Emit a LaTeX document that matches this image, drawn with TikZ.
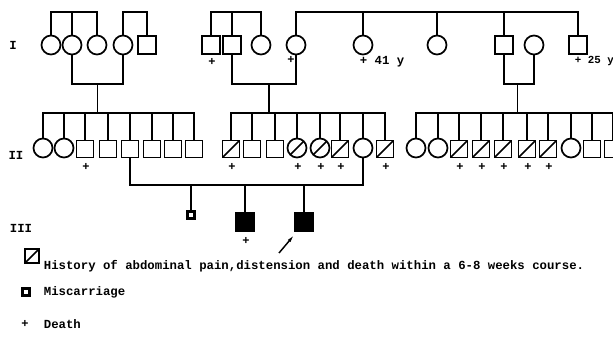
\documentclass[tikz,border=0pt]{standalone}
\usepackage{fontspec}
\setmonofont{Liberation Mono}
\usetikzlibrary{arrows.meta,calc}
\begin{document}
\begin{tikzpicture}[x=0.75pt,y=-0.75pt, line width=1.3pt, line join=miter,
  sq/.style={draw, rectangle, minimum size=12.75pt, inner sep=0pt},
  sqI/.style={draw, rectangle, minimum size=13.5pt, inner sep=0pt},
  ci/.style={draw, circle, minimum size=14.25pt, inner sep=0pt},
  hatch/.style={path picture={\draw[line width=1.3pt] (path picture bounding box.south west) -- (path picture bounding box.north east);}},
  affsq/.style={draw, fill=black, rectangle, minimum size=13.5pt, inner sep=0pt},
  misc/.style={draw, fill=white, rectangle, minimum size=5pt, inner sep=0pt, line width=1.9pt},
  plus/.style={font=\fontsize{9}{9}\selectfont\ttfamily\bfseries, inner sep=0pt},
  txt/.style={font=\fontsize{9.25}{10}\selectfont\ttfamily\bfseries, inner sep=0pt, anchor=west},
]
\useasboundingbox (0,0) rectangle (613,345);
\coordinate (yI) at (0,12);
\coordinate (yM) at (0,84);
\coordinate (yII) at (0,113);
\coordinate (yM2) at (0,185);

% generation labels
\node[txt, anchor=center] (gI) at (13,45) {I};
\node[txt, anchor=center] (gII) at (16,155) {II};
\node[txt, anchor=center] (gIII) at (21,228) {III};

% ---------- Generation I ----------
\node[ci] (a1) at (51,45) {};
\node[ci] (a2) at (72,45) {};
\node[ci] (a3) at (97,45) {};
\node[ci] (a4) at (123,45) {};
\node[sqI] (a5) at (147,45) {};

\node[sqI] (b1) at (211,45) {};
\node[sqI] (b2) at (232,45) {};
\node[ci] (b3) at (261,45) {};
\node[ci] (b4) at (296,45) {};
\node[ci] (b5) at (363,45) {};
\node[ci] (b6) at (437,45) {};
\node[sqI] (b7) at (504,45) {};
\node[ci] (b8) at (534,45) {};
\node[sqI] (b9) at (578,45) {};

\node[plus] (pb1) at (212,62) {+};
\node[plus] (pb4) at (291,60) {+};
\node[txt] (lb5) at (359,62) {+ 41 y};
\node[txt, font=\fontsize{8.1}{9}\selectfont\ttfamily\bfseries] (lb9) at (574,61) {+ 25 y};

% sibships gen I
\draw (a1.north) -- (a1.north |- yI) -- (a3.north |- yI) -- (a3.north);
\draw (a2.north) -- (a2.north |- yI);
\draw (a4.north) -- (a4.north |- yI) -- (a5.north |- yI) -- (a5.north);
\draw (b1.north) -- (b1.north |- yI) -- (b3.north |- yI) -- (b3.north);
\draw (b2.north) -- (b2.north |- yI);
\draw (b4.north) -- (b4.north |- yI) -- (b9.north |- yI) -- (b9.north);
\draw (b5.north) -- (b5.north |- yI);
\draw (b6.north) -- (b6.north |- yI);
\draw (b7.north) -- (b7.north |- yI);

% marriages gen I
\draw (a2.south) -- (a2.south |- yM) -- (a4.south |- yM) -- (a4.south);
\draw (b2.south) -- (b2.south |- yM) -- (b4.south |- yM) -- (b4.south);
\draw (b7.south) -- (b7.south |- yM) -- (b8.south |- yM) -- (b8.south);
\coordinate (m1) at ($(a2.south |- yM)!0.5!(a4.south |- yM)$);
\coordinate (m2) at ($(b2.south |- yM)!0.58!(b4.south |- yM)$);
\coordinate (m3) at ($(b7.south |- yM)!0.45!(b8.south |- yM)$);
\draw (m1) -- (m1 |- yII);
\draw (m2) -- (m2 |- yII);
\draw (m3) -- (m3 |- yII);

% ---------- Generation II ----------
\node[ci] (c1) at (43,148) {};
\node[ci] (c2) at (64,148) {};
\node[sq] (c3) at (85,149) {};
\node[sq] (c4) at (108,149) {};
\node[sq] (c5) at (130,149) {};
\node[sq] (c6) at (152,149) {};
\node[sq] (c7) at (173,149) {};
\node[sq] (c8) at (194,149) {};

\node[sq, hatch] (d1) at (231,149) {};
\node[sq] (d2) at (252,149) {};
\node[sq] (d3) at (275,149) {};
\node[ci, hatch] (d4) at (297,148) {};
\node[ci, hatch] (d5) at (320,148) {};
\node[sq, hatch] (d6) at (340,149) {};
\node[ci] (d7) at (363,148) {};
\node[sq, hatch] (d8) at (385,149) {};

\node[ci] (e1) at (416,148) {};
\node[ci] (e2) at (438,148) {};
\node[sq, hatch] (e3) at (459,149) {};
\node[sq, hatch] (e4) at (481,149) {};
\node[sq, hatch] (e5) at (503,149) {};
\node[sq, hatch] (e6) at (527,149) {};
\node[sq, hatch] (e7) at (548,149) {};
\node[ci] (e8) at (571,148) {};
\node[sq] (e9) at (592,149) {};
\node[sq] (e10) at (613,149) {};
\coordinate (edge) at (613,113);

\foreach \n/\x in {pc3/c3, pd1/d1, pd4/d4, pd5/d5, pd6/d6, pd8/d8, pe3/e3, pe4/e4, pe5/e5, pe6/e6, pe7/e7}
  \node[plus] (\n) at ($(\x.south)+(1,9)$) {+};

% sibships gen II
\draw (c1.north) -- (c1.north |- yII) -- (c8.north |- yII) -- (c8.north);
\foreach \s in {c2,c3,c4,c5,c6,c7} \draw (\s.north) -- (\s.north |- yII);
\draw (d1.north) -- (d1.north |- yII) -- (d8.north |- yII) -- (d8.north);
\foreach \s in {d2,d3,d4,d5,d6,d7} \draw (\s.north) -- (\s.north |- yII);
\draw (e1.north) -- (e1.north |- yII) -- (edge);
\foreach \s in {e2,e3,e4,e5,e6,e7,e8,e9,e10} \draw (\s.north) -- (\s.north |- yII);

% marriage gen II
\draw (c5.south) -- (c5.south |- yM2) -- (d7.south |- yM2) -- (d7.south);

% ---------- Generation III ----------
\node[misc] (f1) at (191,215) {};
\node[affsq] (f2) at (245,222) {};
\node[affsq] (f3) at (304,222) {};
\foreach \s in {f1,f2,f3} \draw (\s.north) -- (\s.north |- yM2);
\node[plus] (pf2) at ($(f2.south)+(1,9)$) {+};
\coordinate (arrtail) at (279,253);
\draw[-{Latex[length=7pt,width=2.5pt]}, line width=1.1pt] (arrtail) -- ($(f3.south west)+(1,2)$);

% ---------- Legend ----------
\node[sq, hatch, minimum size=11pt] (lg1) at (32,256) {};
\node[txt] (lt1) at (43,266) {History of abdominal pain,distension and death within a 6-8 weeks course.};
\node[misc] (lg2) at (26,292) {};
\node[txt] (lt2) at (43,292) {Miscarriage};
\node[plus] (lg3) at (25,324) {+};
\node[txt] (lt3) at (43,324) {Death};
\end{tikzpicture}
\end{document}
